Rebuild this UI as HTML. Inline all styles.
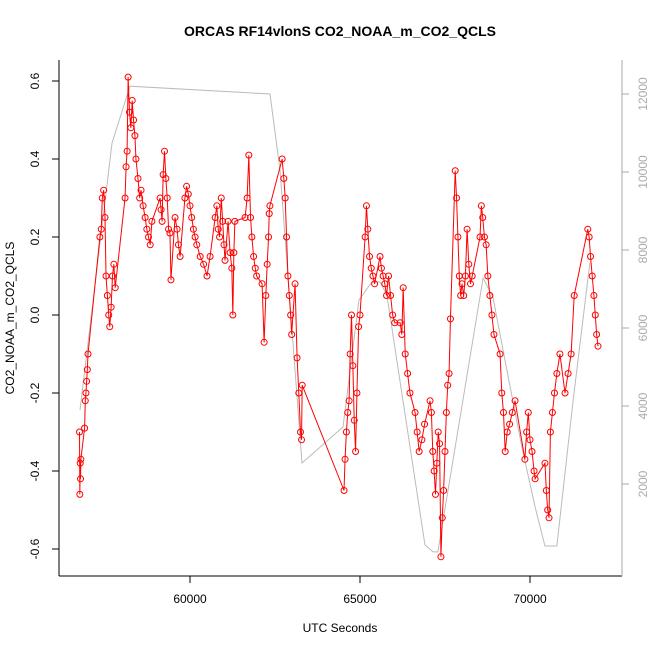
<!DOCTYPE html>
<html><head><meta charset="utf-8"><style>
html,body{margin:0;padding:0;background:#fff}
svg{display:block;font-family:"Liberation Sans",sans-serif}
</style></head><body>
<svg id="chart" width="650" height="650" viewBox="0 0 650 650">
<text x="340" y="36" text-anchor="middle" font-size="14" font-weight="bold">ORCAS RF14vlonS CO2_NOAA_m_CO2_QCLS</text>
<text x="340" y="632" text-anchor="middle" font-size="12">UTC Seconds</text>
<text transform="translate(14,318) rotate(-90)" text-anchor="middle" font-size="12">CO2_NOAA_m_CO2_QCLS</text>
<g id="axes"></g><g id="alt"></g><g id="co2"></g>
</svg>
<script>
const xTicks=[60000,65000,70000];
const yTicks=[-0.6,-0.4,-0.2,0.0,0.2,0.4,0.6];
const yTickLabels=["-0.6","-0.4","-0.2","0.0","0.2","0.4","0.6"];
const altTicks=[2000,4000,6000,8000,10000,12000];
const altTime=[56765,57706,58235,62353,62647,63294,64500,64970,65350,65590,65790,66910,67150,67290,68620,68910,69320,69760,70150,70440,70790,71260,71760];
const altValue=[3900,10740,12200,12000,10050,2540,3460,6720,7180,7180,6850,440,260,260,7280,6790,4920,2950,1410,410,410,4080,7670];
const co2Time=[56750,56760,56770,56780,56790,56900,56920,56940,56960,56980,57000,
57350,57390,57420,57460,57500,57530,57570,57610,57640,57680,57720,57760,57800,
58090,58120,58150,58180,58220,58260,58300,58340,58380,58410,
58470,58520,58560,58620,58680,58730,58780,58830,58880,
59120,59150,59180,59210,59250,59290,59330,59370,59410,59440,
59560,59620,59660,59710,
59850,59900,59950,60000,60050,60100,60150,60200,60300,60400,60500,60590,
60740,60790,60830,60870,60920,60960,61000,61030,
61120,61180,61230,61260,61290,61320,
61620,61680,61730,61780,61820,61870,61920,61960,
62120,62180,62230,62270,62310,62330,62350,
62710,62760,62800,62840,62880,62920,62960,62990,
63090,63150,63200,63250,63280,63300,
64530,64560,64600,64640,64680,
64710,64750,64790,64830,64870,64910,64960,65000,
65150,65190,65230,65280,65330,65380,65430,
65590,65630,65680,65730,65780,65840,65900,65960,66020,
66180,66230,66270,66330,66400,66470,
66620,66680,66740,66820,66900,
67060,67100,67140,67180,67220,67260,67300,67340,67380,67420,67460,67500,67540,67580,67620,67660,
67800,67840,67880,67920,67960,68000,68050,68100,68150,68200,68250,68300,
68530,68570,68610,68660,68710,68760,68820,68880,68940,
69120,69170,69220,69270,69330,69400,69480,69560,
69850,69900,69950,70000,70060,70120,70150,
70440,70480,70520,70560,70600,70660,70720,70790,70880,
71030,71120,71210,71300,
71700,71740,71780,71830,71880,71920,71960,72000];
const co2Value=[-0.3,-0.46,-0.38,-0.42,-0.37,-0.29,-0.22,-0.2,-0.17,-0.14,-0.1,
0.2,0.22,0.3,0.32,0.25,0.1,0.05,0.0,-0.03,0.02,0.1,0.13,0.07,
0.3,0.38,0.42,0.61,0.52,0.48,0.55,0.5,0.46,0.4,
0.35,0.3,0.32,0.28,0.25,0.22,0.2,0.18,0.24,
0.3,0.27,0.24,0.36,0.42,0.35,0.3,0.22,0.21,0.09,
0.25,0.22,0.18,0.15,
0.3,0.33,0.31,0.28,0.25,0.22,0.2,0.18,0.15,0.13,0.1,0.15,
0.25,0.28,0.22,0.2,0.3,0.24,0.18,0.14,
0.24,0.16,0.12,0.0,0.16,0.24,
0.25,0.3,0.41,0.25,0.2,0.15,0.12,0.1,
0.08,-0.07,0.05,0.13,0.2,0.26,0.28,
0.4,0.35,0.3,0.2,0.1,0.05,0.0,-0.05,
0.08,-0.11,-0.2,-0.3,-0.32,-0.18,
-0.45,-0.37,-0.3,-0.25,-0.22,
-0.1,0.0,-0.13,-0.27,-0.35,-0.2,-0.03,0.0,
0.2,0.28,0.22,0.15,0.12,0.1,0.08,
0.15,0.12,0.1,0.08,0.05,0.1,0.05,0.0,-0.02,
-0.02,-0.05,0.07,-0.1,-0.15,-0.2,
-0.25,-0.3,-0.35,-0.32,-0.28,
-0.22,-0.25,-0.35,-0.4,-0.46,-0.38,-0.3,-0.33,-0.62,-0.52,-0.45,-0.35,-0.25,-0.18,-0.15,-0.01,
0.37,0.3,0.2,0.1,0.05,0.08,0.05,0.1,0.22,0.13,0.08,0.1,
0.2,0.28,0.25,0.2,0.18,0.1,0.05,0.0,-0.05,
-0.1,-0.2,-0.25,-0.35,-0.3,-0.28,-0.25,-0.22,
-0.37,-0.3,-0.25,-0.32,-0.35,-0.4,-0.42,
-0.38,-0.45,-0.5,-0.52,-0.3,-0.25,-0.2,-0.15,-0.1,
-0.2,-0.15,-0.1,0.05,
0.22,0.2,0.15,0.1,0.05,0.0,-0.05,-0.08];

const NS="http://www.w3.org/2000/svg";
const L=59,R=622,T=60,B=576;
const xs=t=>190+(t-60000)*0.034;
const ys=v=>315-v*390;
const ya=a=>484-(a-2000)*0.039;
function mk(tag,attrs,parent){const e=document.createElementNS(NS,tag);for(const k in attrs)e.setAttribute(k,attrs[k]);parent.appendChild(e);return e;}
const axes=document.getElementById('axes');
let e=mk('line',{x1:L,y1:B,x2:R,y2:B,stroke:'#000'},axes);


e=mk('line',{x1:L,y1:T,x2:L,y2:B,stroke:'#000'},axes);


e=mk('line',{x1:R,y1:T,x2:R,y2:B,stroke:'#aaa'},axes);


xTicks.forEach(t=>{const x=xs(t);
 mk('line',{x1:x,y1:B,x2:x,y2:B+7,stroke:'#000'},axes);
 e=mk('text',{x:x,y:B+27,'text-anchor':'middle','font-size':12},axes);e.textContent=t;
 
 });
yTicks.forEach((v,i)=>{const y=ys(v);
 mk('line',{x1:L-7,y1:y,x2:L,y2:y,stroke:'#000'},axes);
 e=mk('text',{transform:`translate(${L-20},${y}) rotate(-90)`,'text-anchor':'middle','font-size':12},axes);e.textContent=yTickLabels[i];
 
 });
altTicks.forEach(a=>{const y=ya(a);
 mk('line',{x1:R,y1:y,x2:R+7,y2:y,stroke:'#aaa'},axes);
 e=mk('text',{transform:`translate(${R+25},${y}) rotate(-90)`,'text-anchor':'middle','font-size':12,fill:'#aaa'},axes);e.textContent=a;
 
 });
const alt=document.getElementById('alt');
e=mk('polyline',{points:altTime.map((t,i)=>xs(t)+','+ya(altValue[i])).join(' '),fill:'none',stroke:'#bbb','stroke-width':1},alt);


const co2=document.getElementById('co2');
e=mk('polyline',{points:co2Time.map((t,i)=>xs(t)+','+ys(co2Value[i])).join(' '),fill:'none',stroke:'#f00','stroke-width':1},co2);


co2Time.forEach((t,i)=>{const c=mk('circle',{cx:xs(t),cy:ys(co2Value[i]),r:3,fill:'none',stroke:'#f00','stroke-width':1},co2);
 
 });
</script>
</body></html>
